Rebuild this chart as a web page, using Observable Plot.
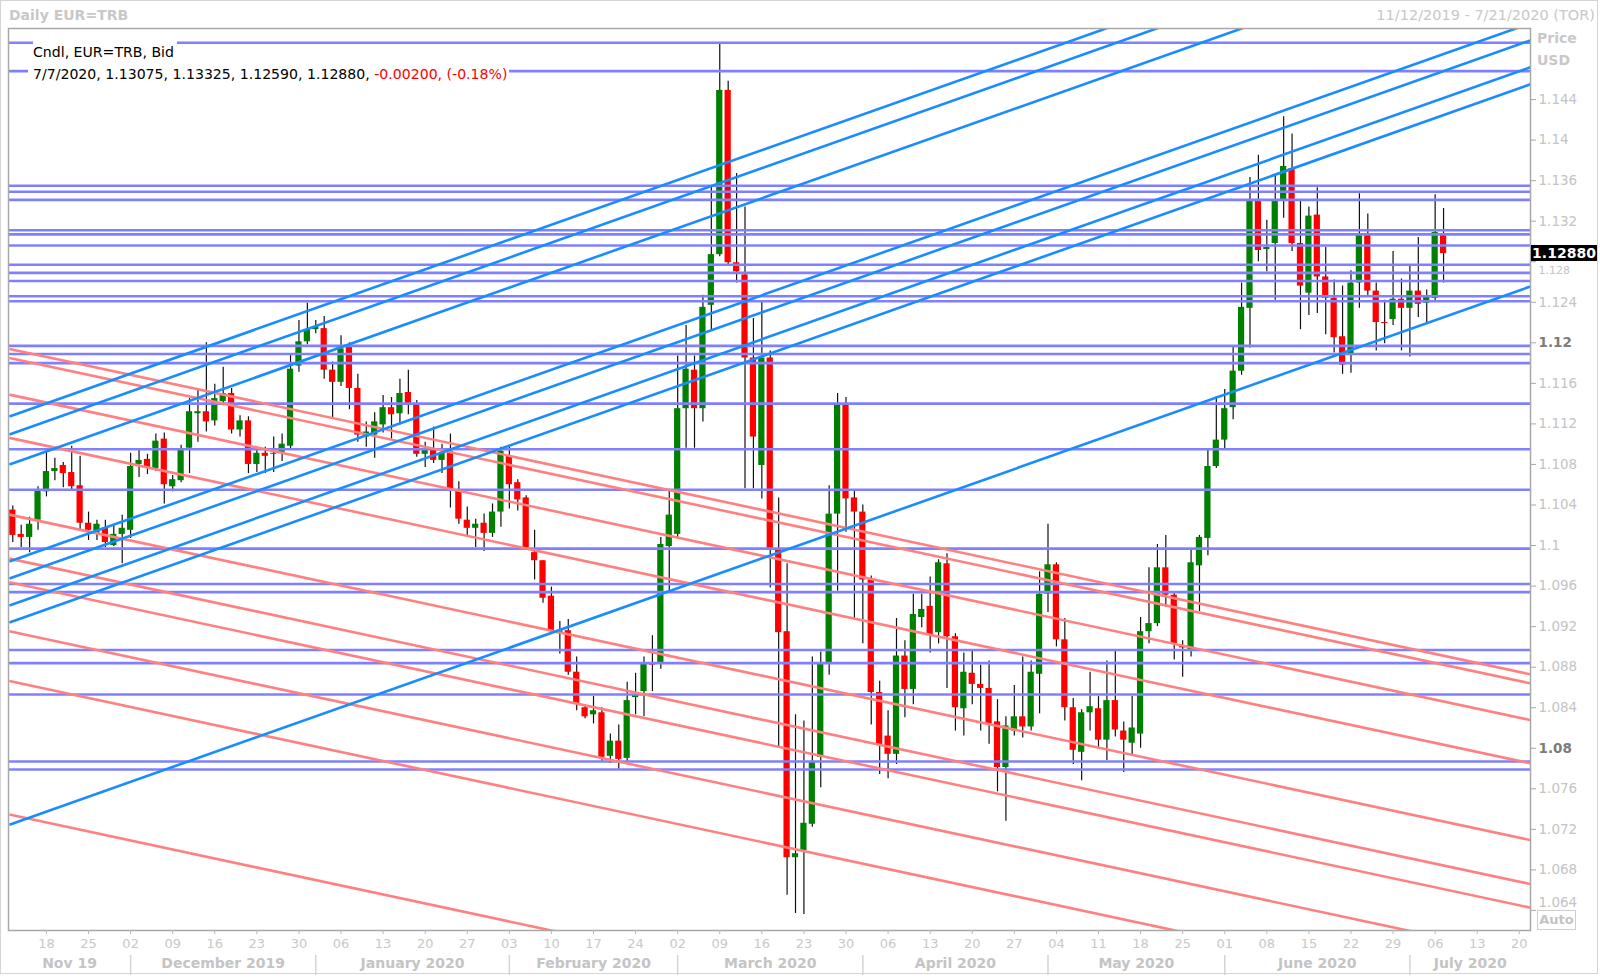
<!DOCTYPE html>
<html><head><meta charset="utf-8">
<script src="https://cdn.jsdelivr.net/npm/d3@7"></script>
<script src="https://cdn.jsdelivr.net/npm/@observablehq/plot@0.6"></script>
<style>
html,body{margin:0;padding:0;background:#fff;}
#wrap{position:relative;width:1600px;height:978px;overflow:hidden;font-family:"DejaVu Sans",sans-serif;background:#fff;}
#wrap svg{position:absolute;left:0;top:0;}
.ov{position:absolute;white-space:nowrap;}
</style></head><body><div id="wrap"></div>
<script>
// ---- data (daily EUR/USD candles, 12 Nov 2019 .. 7 Jul 2020, trading days) ----
const startDate = [2019, 10, 12];
const open = [
1.1035,1.1011,1.1008,1.1025,1.1053,1.1073,1.1079,1.1072,1.1059,1.1022,1.1011,1.1017,1.1000,1.1011,
1.1015,1.1080,1.1085,1.1076,1.1105,1.1058,1.1064,1.1096,1.1130,1.1132,1.1123,1.1142,1.1150,1.1114,1.1123,
1.1080,1.1091,1.1090,1.1092,1.1098,1.1177,1.1201,1.1213,1.1214,1.1173,
1.1161,1.1196,1.1155,1.1107,1.1109,1.1119,1.1136,1.1130,1.1151,1.1140,1.1090,1.1094,1.1084,1.1093,1.1055,1.1025,1.1017,1.1022,1.1012,1.1033,
1.1088,1.1062,1.1047,1.0993,1.0985,1.0950,1.0913,1.0916,1.0875,1.0840,1.0833,1.0835,1.0792,1.0807,1.0790,1.0850,1.0856,1.0884,1.0883,1.0999,
1.1011,1.1135,1.1173,1.1135,1.1237,1.1287,1.1449,1.1279,1.1267,1.1185,1.1079,1.1185,1.0997,1.0915,1.0692,1.0699,1.0725,1.0791,1.0884,1.1031,
1.1140,1.1047,1.1033,1.0966,1.0855,1.0812,1.0794,1.0891,1.0858,1.0929,1.0940,1.0914,1.0982,1.0910,1.0839,1.0874,1.0863,1.0859,1.0826,1.0781,1.0817,1.0831,1.0821,1.0873,1.0952,
1.0981,1.0907,1.0840,1.0796,1.0835,1.0839,1.0808,1.0847,1.0817,1.0805,1.0814,1.0915,1.0923,1.0978,1.0951,1.0901,1.0897,1.0980,1.1007,1.1078,
1.1104,1.1136,1.1172,1.1234,1.1340,1.1292,1.1298,1.1340,1.1372,1.1298,1.1249,1.1326,1.1265,1.1244,1.1206,1.1188,1.1259,1.1306,1.1251,1.1220,1.1223,1.1243,1.1234,1.1251,1.1239,1.1244,1.13075];
const high = [
1.1039,1.1020,1.1028,1.1058,1.1092,1.1086,1.1082,1.1098,1.1088,1.1033,1.1025,1.1025,1.1020,1.1030,
1.1091,1.1094,1.1090,1.1110,1.1111,1.1069,1.1099,1.1145,1.1155,1.1200,1.1159,1.1176,1.1155,1.1128,1.1127,
1.1097,1.1097,1.1107,1.1110,1.1188,1.1222,1.1239,1.1222,1.1226,1.1181,
1.1207,1.1200,1.1169,1.1122,1.1131,1.1148,1.1146,1.1164,1.1173,1.1143,1.1102,1.1117,1.1100,1.1110,1.1063,1.1038,1.1026,1.1031,1.1041,1.1097,
1.1097,1.1065,1.1049,1.1015,1.0985,1.0959,1.0925,1.0927,1.0890,1.0843,1.0851,1.0840,1.0814,1.0823,1.0865,1.0874,1.0890,1.0911,1.1008,1.1054,
1.1187,1.1217,1.1187,1.1247,1.1355,1.1495,1.1458,1.1367,1.1334,1.1224,1.1240,1.1192,1.1047,1.0982,1.0833,1.0827,1.0890,1.0895,1.1059,1.1150,
1.1146,1.1054,1.1040,1.0970,1.0866,1.0837,1.0928,1.0906,1.0952,1.0952,1.0969,1.0986,1.0992,1.0913,1.0894,1.0896,1.0882,1.0886,1.0848,1.0831,1.0862,1.0890,1.0886,1.0974,1.1021,
1.0983,1.0928,1.0849,1.0838,1.0875,1.0851,1.0886,1.0896,1.0826,1.0851,1.0929,1.0978,1.1001,1.1010,1.0954,1.0906,1.0996,1.1010,1.1094,1.1147,
1.1154,1.1196,1.1259,1.1363,1.1385,1.1321,1.1365,1.1423,1.1406,1.1340,1.1334,1.1353,1.1294,1.1262,1.1256,1.1271,1.1347,1.1327,1.1259,1.1242,1.1290,1.1263,1.1276,1.1304,1.1252,1.1346,1.13325];
const low = [
1.1003,1.0998,1.0993,1.1015,1.1048,1.1064,1.1057,1.1054,1.1015,1.1005,1.1005,1.0998,1.0999,1.0982,
1.1007,1.1067,1.1070,1.1073,1.1041,1.1053,1.1062,1.1071,1.1102,1.1112,1.1118,1.1138,1.1110,1.1107,1.1071,
1.1072,1.1071,1.1072,1.1083,1.1095,1.1171,1.1198,1.1209,1.1164,1.1125,
1.1157,1.1134,1.1102,1.1097,1.1086,1.1111,1.1105,1.1119,1.1129,1.1087,1.1077,1.1081,1.1071,1.1037,1.1021,1.1010,1.0998,1.0994,1.1008,1.1018,
1.1036,1.1034,1.0997,1.0966,1.0943,1.0913,1.0893,1.0872,1.0837,1.0829,1.0824,1.0786,1.0785,1.0778,1.0786,1.0833,1.0831,1.0856,1.0878,1.0953,
1.1008,1.1096,1.1096,1.1122,1.1213,1.1285,1.1276,1.1259,1.1056,1.1056,1.1046,1.0958,1.0801,1.0655,1.0637,1.0636,1.0722,1.0761,1.0872,1.0955,
1.1013,1.0928,1.0903,1.0823,1.0774,1.0770,1.0784,1.0830,1.0843,1.0919,1.0894,1.0903,1.0859,1.0817,1.0812,1.0843,1.0817,1.0804,1.0757,1.0728,1.0812,1.0810,1.0817,1.0834,1.0934,
1.0900,1.0827,1.0784,1.0768,1.0817,1.0801,1.0788,1.0811,1.0776,1.0792,1.0800,1.0903,1.0920,1.0939,1.0887,1.0870,1.0890,1.0935,1.0990,1.1076,
1.1094,1.1124,1.1168,1.1195,1.1280,1.1270,1.1242,1.1323,1.1290,1.1213,1.1227,1.1229,1.1208,1.1190,1.1169,1.1170,1.1234,1.1246,1.1192,1.1199,1.1217,1.1192,1.1186,1.1225,1.1220,1.1240,1.12590];
const close = [
1.1010,1.1008,1.1021,1.1054,1.1073,1.1076,1.1071,1.1058,1.1022,1.1015,1.1021,1.1003,1.1011,1.1017,
1.1078,1.1084,1.1077,1.1103,1.1060,1.1065,1.1094,1.1132,1.1132,1.1122,1.1145,1.1150,1.1114,1.1123,1.1080,
1.1091,1.1088,1.1091,1.1100,1.1174,1.1201,1.1213,1.1216,1.1173,1.1161,
1.1194,1.1155,1.1109,1.1112,1.1122,1.1136,1.1129,1.1150,1.1140,1.1090,1.1094,1.1084,1.1091,1.1056,1.1026,1.1017,1.1021,1.1012,1.1033,1.1093,
1.1060,1.1045,1.0998,1.0985,1.0948,1.0916,1.0916,1.0875,1.0843,1.0831,1.0837,1.0791,1.0807,1.0789,1.0847,1.0852,1.0884,1.0882,1.1001,1.1030,
1.1135,1.1174,1.1135,1.1235,1.1287,1.1449,1.1279,1.1270,1.1185,1.1107,1.1185,1.0997,1.0914,1.0692,1.0696,1.0726,1.0786,1.0884,1.1031,1.1140,
1.1046,1.1033,1.0966,1.0855,1.0803,1.0794,1.0891,1.0858,1.0932,1.0937,1.0912,1.0983,1.0910,1.0840,1.0875,1.0863,1.0859,1.0824,1.0781,1.0822,1.0831,1.0821,1.0875,1.0952,1.0981,
1.0907,1.0840,1.0798,1.0835,1.0841,1.0808,1.0847,1.0818,1.0808,1.0820,1.0915,1.0923,1.0978,1.0951,1.0903,1.0899,1.0983,1.1008,1.1078,1.1104,
1.1135,1.1172,1.1235,1.1340,1.1291,1.1294,1.1340,1.1374,1.1298,1.1256,1.1325,1.1265,1.1244,1.1205,1.1178,1.1259,1.1306,1.1251,1.1220,1.1219,1.1243,1.1234,1.1251,1.1238,1.1245,1.1309,1.12880];

// horizontal support/resistance levels
const levels = [1.1496,1.1468,1.1355,1.1349,1.1341,1.1311,1.1307,1.1296,1.1277,1.1269,1.1261,1.1246,1.1241,
  1.1197,1.1189,1.1180,1.1140,1.1095,1.1055,1.0997,1.0962,1.0954,1.0897,1.0884,1.0853,1.0787,1.0779];
// rising (blue) and falling (red) trend lines: price at the chart's left edge and right edge
const lineFrom = -0.4, lineTo = 181;
const blueStart = [1.11273,1.11096,1.10799,1.09842,1.09674,1.09408,1.09240,1.07246];
const blueEnd   = [1.16603,1.16426,1.16129,1.15172,1.15004,1.14738,1.14570,1.12576];
const redStart  = [1.11940,1.11851,1.11489,1.11062,1.10305,1.09871,1.09638,1.09154,1.08663,1.07346];
const redEnd    = [1.08717,1.08628,1.08266,1.07839,1.07082,1.06648,1.06415,1.05931,1.05440,1.04123];

const monthLabels = ["Nov 19","December 2019","January 2020","February 2020","March 2020","April 2020","May 2020","June 2020","July 2020"];
const yTicks = d3.range(1064, 1145, 4).map(k => k / 1000);
const boldTicks = [1.12, 1.08];
const legend1 = "Cndl, EUR=TRB, Bid";
const legend2 = "7/7/2020, 1.13075, 1.13325, 1.12590, 1.12880, ";
const legendChg = "-0.00200, (-0.18%)";

// ---- build ----
const nDays = 181; // 12 Nov 2019 .. 21 Jul 2020
const days = [];
for (let t = new Date(Date.UTC(...startDate)); days.length < nDays; t = new Date(t.getTime() + 864e5)) {
  const wd = t.getUTCDay(); if (wd !== 0 && wd !== 6) days.push(t);
}
const candles = open.map((o, i) => ({i, o, h: high[i], l: low[i], c: close[i]}));
const up = candles.filter(d => d.c >= d.o), down = candles.filter(d => d.c < d.o);
const mondays = days.map((d, i) => ({d, i})).filter(e => e.d.getUTCDay() === 1);
const mStarts = days.map((d, i) => ({d, i})).filter(e => e.i === 0 || e.d.getUTCMonth() !== days[e.i - 1].getUTCMonth());
const xDomain = [-0.51, 180.33];
const yDomain = [1.06202, 1.15101];
const pxPerUnit = (930 - 28) / (yDomain[1] - yDomain[0]);
const months = mStarts.map((m, k) => {
  const left = k === 0 ? xDomain[0] : m.i;
  const right = k + 1 < mStarts.length ? mStarts[k + 1].i : xDomain[1];
  return {start: m.i, center: (left + right) / 2, label: monthLabels[k]};
});
const blueLines = blueStart.map((s, k) => ({s, e: blueEnd[k]}));
const redLines = redStart.map((s, k) => ({s, e: redEnd[k]}));
const fmtY = d3.format(".3~f");
const fmtDay = d3.utcFormat("%d");
const lastClose = close[close.length - 1];
const hiddenTick = 1.128; // partly covered by the last-price tag
const bodyY2 = d => Math.abs(d.c - d.o) < 0.00008 ? d.o + (d.c >= d.o ? 0.00008 : -0.00008) : d.c;
const plainTicks = yTicks.filter(v => !boldTicks.includes(v) && v !== 1.064 && v !== hiddenTick);

const plot = Plot.plot({
  width: 1600, height: 978,
  marginLeft: 8, marginRight: 70, marginTop: 28, marginBottom: 48,
  x: {domain: xDomain, axis: null},
  y: {domain: yDomain, axis: null},
  style: {fontFamily: "DejaVu Sans, sans-serif", background: "transparent", overflow: "visible"},
  marks: [
    Plot.ruleX(candles, {x: "i", y1: "l", y2: "h", stroke: "#111", strokeWidth: 1.2}),
    Plot.rect(up, {x1: d => d.i - 0.37, x2: d => d.i + 0.37, y1: "o", y2: bodyY2, fill: "#008000"}),
    Plot.rect(down, {x1: d => d.i - 0.37, x2: d => d.i + 0.37, y1: "o", y2: bodyY2, fill: "#ff0000"}),
    Plot.ruleY(levels, {stroke: "#8080ff", strokeWidth: 2.6}),
    Plot.link(redLines, {x1: () => lineFrom, x2: () => lineTo, y1: "s", y2: "e", stroke: "#ff8080", strokeWidth: 2.6, clip: true}),
    Plot.link(blueLines, {x1: () => lineFrom, x2: () => lineTo, y1: "s", y2: "e", stroke: "#1a8cff", strokeWidth: 2.6, clip: true}),
    Plot.frame({stroke: "#a8a8a8", strokeWidth: 1.5}),
    Plot.axisY(yTicks, {anchor: "right", tickSize: 5, tickFormat: () => "", color: "#a8a8a8"}),
    Plot.text(plainTicks, {y: d => d, text: fmtY, frameAnchor: "right", dx: 8, textAnchor: "start", fill: "#c4c4c4", fontSize: 13.5}),
    Plot.text([1.064], {y: d => d, text: fmtY, frameAnchor: "right", dx: 8, dy: -8, textAnchor: "start", fill: "#c4c4c4", fontSize: 13.5}),
    Plot.text([hiddenTick], {y: d => d, text: fmtY, frameAnchor: "right", dx: 8, dy: 9, textAnchor: "start", fill: "#c4c4c4", fontSize: 11}),
    Plot.text(boldTicks, {y: d => d, text: fmtY, frameAnchor: "right", dx: 8, textAnchor: "start", fill: "#7c7c7c", fontWeight: "bold", fontSize: 13.5}),
    Plot.axisX(mondays.map(m => m.i), {anchor: "bottom", tickSize: 4, tickFormat: () => "", color: "#b8b8b8"}),
    Plot.text(mondays, {x: "i", text: d => fmtDay(d.d), frameAnchor: "bottom", dy: 17, fill: "#c8c8c8", fontSize: 13}),
    Plot.text(months, {x: "center", text: "label", frameAnchor: "bottom", dy: 37, fill: "#c4c4c4", fontWeight: "bold", fontSize: 14}),
    Plot.ruleX(months.slice(1), {x: "start", y1: yDomain[0] - 25 / pxPerUnit, y2: yDomain[0] - 45 / pxPerUnit, stroke: "#d4d4d4", strokeWidth: 1.5})
  ]
});
const wrap = document.getElementById("wrap");
wrap.appendChild(plot);

function ov(html, css) { const d = document.createElement("div"); d.className = "ov"; d.innerHTML = html; Object.assign(d.style, css); wrap.appendChild(d); return d; }
// outer frame
ov("", {left: "0px", top: "0px", width: "1596px", height: "972px", border: "1.5px solid #d4d4d4"});
ov("Daily EUR=TRB", {left: "9px", top: "5px", fontSize: "14px", fontWeight: "bold", color: "#c8c8c8", lineHeight: "20px"});
ov("11/12/2019 - 7/21/2020 (TOR)", {right: "5px", top: "5px", fontSize: "14.5px", color: "#c8c8c8", lineHeight: "20px"});
ov(legend1, {left: "33px", top: "40px", height: "24px", lineHeight: "25px", fontSize: "14.1px", color: "#000", background: "#fff", paddingRight: "3px"});
ov(legend2 + '<span style="color:#ff0000">' + legendChg + '</span>', {left: "28px", top: "64px", height: "20px", lineHeight: "20px", fontSize: "14.1px", color: "#000", background: "#fff", paddingLeft: "5px", paddingRight: "2px"});
ov("Price", {left: "1537px", top: "28px", fontSize: "14px", fontWeight: "bold", color: "#c8c8c8", lineHeight: "20px"});
ov("USD", {left: "1537px", top: "50px", fontSize: "14px", fontWeight: "bold", color: "#c8c8c8", lineHeight: "20px"});
const yS = plot.scale("y");
const tagY = yS.apply(lastClose);
ov(lastClose.toFixed(5), {left: "1531px", top: (tagY - 8) + "px", width: "66px", height: "16px", lineHeight: "16px", background: "#000", color: "#fff", fontSize: "14px", fontWeight: "bold", textAlign: "center"});
ov("Auto", {left: "1537px", top: "910px", width: "37px", height: "18px", lineHeight: "18px", border: "1px solid #cfcfcf", color: "#c4c4c4", fontSize: "13px", fontWeight: "bold", textAlign: "center"});
</script></body></html>
